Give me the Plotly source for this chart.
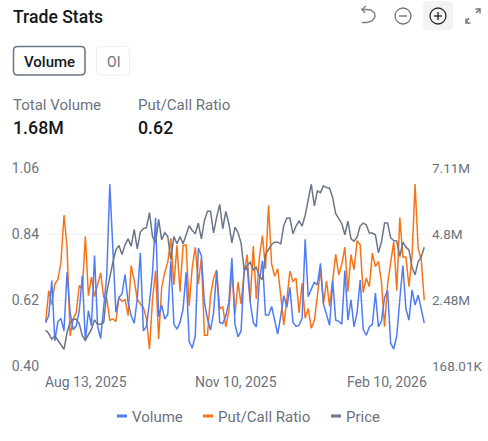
import pandas as pd
import plotly.graph_objects as go

W, H = 488, 441

holidays = ["2025-09-01", "2025-11-27", "2025-12-25", "2026-01-01", "2026-01-19"]
dates = [d.strftime("%Y-%m-%d") for d in pd.bdate_range("2025-08-13", "2026-02-10")
         if d.strftime("%Y-%m-%d") not in holidays]

# Daily option volume, in millions of contracts
volume = [
    1.70, 1.93, 3.17, 1.05, 1.73, 1.84, 1.40, 3.46, 2.05, 1.44,
    1.58, 2.11, 3.34, 1.05, 2.11, 1.58, 4.05, 1.58, 1.13, 2.29,
    3.34, 6.56, 4.05, 2.05, 2.58, 2.70, 3.38, 2.40, 1.93, 1.67,
    2.54, 4.15, 1.40, 1.56, 2.40, 3.46, 5.38, 1.90, 2.31, 1.82,
    1.99, 3.87, 1.64, 1.46, 1.70, 2.17, 3.46, 1.03, 0.79, 1.23,
    4.31, 4.05, 2.40, 1.82, 1.43, 2.05, 3.52, 1.70, 1.66, 1.93,
    2.40, 3.96, 1.64, 1.19, 1.40, 3.52, 3.64, 2.40, 1.70, 1.54,
    3.17, 3.87, 1.96, 1.96, 2.26, 1.78, 1.29, 1.93, 2.64, 2.23,
    2.93, 1.70, 1.56, 1.60, 1.85, 4.62, 2.60, 2.87, 3.11, 3.02,
    3.78, 2.34, 1.93, 1.60, 3.17, 1.78, 1.74, 1.64, 3.52, 1.78,
    2.49, 1.54, 2.05, 3.19, 1.46, 1.25, 1.54, 1.62, 2.73, 1.54,
    1.76, 2.58, 2.82, 0.97, 0.76, 1.23, 2.52, 3.70, 2.17, 1.78,
    2.84, 2.31, 2.66, 2.11, 1.68,
]

put_call_ratio = [
    0.545, 0.652, 0.605, 0.674, 0.689, 0.747, 0.904, 0.797, 0.501, 0.557,
    0.579, 0.669, 0.657, 0.833, 0.635, 0.697, 0.632, 0.674, 0.711, 0.629,
    0.626, 0.553, 0.557, 0.549, 0.629, 0.616, 0.622, 0.568, 0.736, 0.685,
    0.624, 0.607, 0.596, 0.557, 0.456, 0.624, 0.719, 0.490, 0.663, 0.713,
    0.747, 0.827, 0.671, 0.803, 0.648, 0.803, 0.805, 0.601, 0.730, 0.797,
    0.674, 0.760, 0.503, 0.503, 0.635, 0.693, 0.721, 0.590, 0.599, 0.531,
    0.585, 0.722, 0.573, 0.680, 0.607, 0.713, 0.772, 0.615, 0.801, 0.624,
    0.764, 0.836, 0.725, 0.937, 0.741, 0.700, 0.725, 0.635, 0.537, 0.624,
    0.717, 0.683, 0.693, 0.577, 0.676, 0.560, 0.592, 0.526, 0.551, 0.635,
    0.722, 0.609, 0.684, 0.599, 0.685, 0.773, 0.704, 0.741, 0.797, 0.648,
    0.772, 0.722, 0.819, 0.805, 0.646, 0.694, 0.665, 0.777, 0.732, 0.750,
    0.680, 0.531, 0.674, 0.747, 0.816, 0.652, 0.896, 0.764, 0.764, 0.665,
    0.769, 1.008, 0.792, 0.756, 0.620,
]

price = [
    110.7, 109.7, 108.0, 109.0, 107.7, 106.5, 105.0, 110.0, 113.0, 114.0,
    114.0, 112.7, 109.0, 107.7, 109.5, 111.0, 113.8, 112.5, 112.5, 113.0,
    122.0, 127.0, 131.0, 134.7, 136.0, 133.3, 136.2, 138.0, 135.8, 140.8,
    135.0, 140.0, 141.0, 141.3, 145.8, 138.7, 136.8, 143.8, 137.7, 139.8,
    138.7, 131.8, 138.7, 136.5, 138.7, 136.5, 139.5, 141.9, 140.5, 139.5,
    142.7, 138.0, 143.5, 146.2, 146.2, 139.8, 144.5, 148.3, 141.0, 146.2,
    142.5, 136.8, 141.5, 139.8, 136.8, 128.7, 130.0, 131.0, 128.7, 129.5,
    126.8, 125.8, 133.3, 134.8, 136.3, 137.0, 137.0, 136.5, 142.0, 144.2,
    144.2, 139.5, 141.8, 143.3, 141.8, 145.0, 150.3, 154.3, 147.8, 152.3,
    151.8, 153.8, 153.3, 153.1, 150.3, 145.5, 144.0, 142.5, 139.2, 143.3,
    138.0, 137.3, 138.5, 141.8, 142.7, 142.2, 139.7, 139.7, 139.2, 133.8,
    137.2, 142.7, 142.7, 138.3, 137.5, 137.3, 132.7, 137.0, 135.5, 134.7,
    129.5, 127.2, 131.2, 132.5, 135.5,
]

ratio_ticks = [0.40, 0.62, 0.84, 1.06]
volume_ticks = [0.16801, 2.48, 4.8, 7.11]
volume_tick_labels = ["168.01K", "2.48M", "4.8M", "7.11M"]
price_range = [100, 159]

BLUE, ORANGE, SLATE = "#4f7cf6", "#f97316", "#6b7588"
MUTED, INK = "#6b7280", "#15171c"
FONT = "Roboto"


def px(x):
    return x / W


def py(y):
    return 1 - y / H


def text(x, y, s, size, color=MUTED, anchor="left", weight=400):
    return dict(xref="paper", yref="paper", x=px(x), y=py(y), text=s, showarrow=False,
                xanchor=anchor, yanchor="middle", borderpad=0, borderwidth=0,
                font=dict(family=FONT, size=size, color=color, weight=weight))


def rounded_rect(x0, y0, x1, y1, r):
    pts = [("M", x0 + r, y0), ("L", x1 - r, y0), ("Q", x1, y0, x1, y0 + r), ("L", x1, y1 - r),
           ("Q", x1, y1, x1 - r, y1), ("L", x0 + r, y1), ("Q", x0, y1, x0, y1 - r),
           ("L", x0, y0 + r), ("Q", x0, y0, x0 + r, y0)]
    out = ""
    for p in pts:
        out += p[0] + " " + " ".join(
            f"{px(p[i]):.5f},{py(p[i + 1]):.5f}" for i in range(1, len(p), 2)) + " "
    return out + "Z"


def stroke(path_pts, color, width=1.4):
    d = " ".join(f"{'M' if i == 0 else 'L'} {px(a):.5f},{py(b):.5f}" for i, (a, b) in enumerate(path_pts))
    return dict(type="path", xref="paper", yref="paper", path=d,
                line=dict(color=color, width=width), layer="above")


def circle(cx, cy, r, color, width=1.3):
    return dict(type="circle", xref="paper", yref="paper", x0=px(cx - r), x1=px(cx + r),
                y0=py(cy + r), y1=py(cy - r), line=dict(color=color, width=width))


fig = go.Figure()
fig.add_trace(go.Scatter(x=dates, y=volume, name="Volume", yaxis="y2", mode="lines",
                         line=dict(color=BLUE, width=1.5)))
fig.add_trace(go.Scatter(x=dates, y=put_call_ratio, name="Put/Call Ratio", yaxis="y", mode="lines",
                         line=dict(color=ORANGE, width=1.5)))
fig.add_trace(go.Scatter(x=dates, y=price, name="Price", yaxis="y3", mode="lines",
                         line=dict(color=SLATE, width=1.5)))

tick_font = dict(family=FONT, size=14, color=MUTED)
shapes = [
    # zoom button highlight and the two metric tabs
    dict(type="path", xref="paper", yref="paper", path=rounded_rect(423, 1, 453, 30, 4),
         fillcolor="#f3f3f3", line=dict(width=0), layer="below"),
    dict(type="path", xref="paper", yref="paper", path=rounded_rect(13.5, 46.5, 85, 75, 4),
         fillcolor="white", line=dict(color="#67748a", width=1.5), layer="below"),
    dict(type="path", xref="paper", yref="paper", path=rounded_rect(96.5, 46.5, 129.5, 75, 4),
         fillcolor="white", line=dict(color="#eeeeee", width=1), layer="below"),
    # undo
    stroke([(365, 13), (362, 9.5), (366, 9.5), (371, 10), (374.5, 13), (375, 17), (372, 21),
            (367, 22.5), (362, 22.5)], "#7b7f87"),
    stroke([(362, 9.5), (366, 6)], "#7b7f87"),
    # zoom out, zoom in
    circle(403, 16, 8, "#70747c"),
    stroke([(399, 16), (407, 16)], "#70747c"),
    circle(438, 16, 8, "#2b2d33"),
    stroke([(434, 16), (442, 16)], "#2b2d33"),
    stroke([(438, 12), (438, 20)], "#2b2d33"),
    # fullscreen arrows
    stroke([(469, 18), (466, 22.5)], "#70747c"),
    stroke([(466, 18.5), (466, 23), (470.5, 23)], "#70747c"),
    stroke([(476, 13), (480, 9)], "#70747c"),
    stroke([(475.5, 9), (480, 9), (480, 13.5)], "#70747c"),
    # legend keys
    stroke([(117, 416), (127, 416)], BLUE, 3),
    stroke([(203, 416), (213, 416)], ORANGE, 3),
    stroke([(331, 416), (341, 416)], SLATE, 3),
]

annotations = [
    text(13, 16.5, "Trade Stats", 17.6, INK, weight=500),
    text(49, 61.5, "Volume", 15, INK, "center", 500),
    text(113, 61.5, "OI", 14, MUTED, "center"),
    text(13, 105, "Total Volume", 15),
    text(138, 105, "Put/Call Ratio", 15),
    text(13, 128, "1.68M", 17.8, INK, weight=500),
    text(138, 128, "0.62", 17.8, INK, weight=500),
    text(45, 382, "Aug 13, 2025", 14),
    text(236, 382, "Nov 10, 2025", 14, anchor="center"),
    text(427, 382, "Feb 10, 2026", 14, anchor="right"),
    text(132, 416.5, "Volume", 15),
    text(218, 416.5, "Put/Call Ratio", 15),
    text(346, 416.5, "Price", 15),
]

fig.update_layout(
    width=W, height=H, autosize=False, showlegend=False,
    margin=dict(l=0, r=0, t=0, b=0),
    paper_bgcolor="white", plot_bgcolor="white",
    font=dict(family=FONT),
    xaxis=dict(domain=[px(44), px(427)], type="category", range=[-0.55, 124.9], automargin=False,
               showgrid=False, zeroline=False, showticklabels=False, showline=False),
    yaxis=dict(domain=[py(366), py(168.5)], range=[0.40, 1.06], tickvals=ratio_ticks,
               ticktext=[f"{v:.2f}" for v in ratio_ticks], tickfont=tick_font, automargin=False,
               ticklabelstandoff=4,
               gridcolor="#f1f2f3", gridwidth=1, zeroline=False, showline=False, ticks=""),
    yaxis2=dict(domain=[py(366), py(168.5)], overlaying="y", side="right", anchor="x",
                range=[volume_ticks[0], volume_ticks[-1]], tickvals=volume_ticks,
                ticktext=volume_tick_labels, tickfont=dict(family=FONT, size=13.5, color=MUTED),
                automargin=False, ticklabelstandoff=4,
                showgrid=False, zeroline=False, showline=False, ticks=""),
    yaxis3=dict(domain=[py(366), py(168.5)], overlaying="y", anchor="x", range=price_range,
                visible=False, automargin=False),
    shapes=shapes,
    annotations=annotations,
)

fig.write_html("out.html", config=dict(displayModeBar=False))
